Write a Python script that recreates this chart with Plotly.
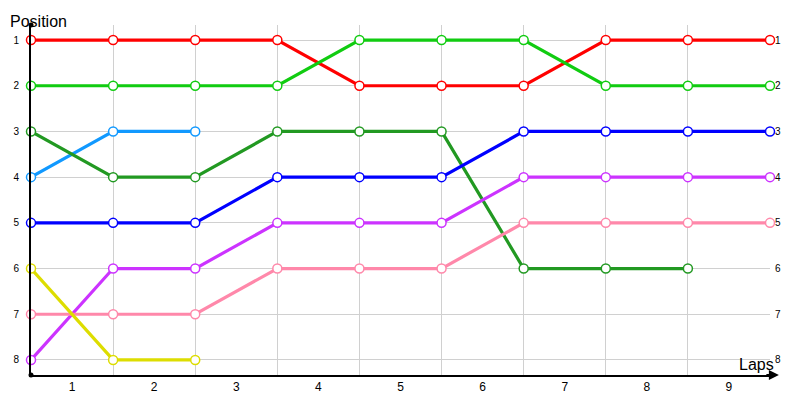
import plotly.graph_objects as go

laps = [0, 1, 2, 3, 4, 5, 6, 7, 8, 9]
lap_labels = ["1", "2", "3", "4", "5", "6", "7", "8", "9"]
positions = [1, 2, 3, 4, 5, 6, 7, 8]

red = [1, 1, 1, 1, 2, 2, 2, 1, 1, 1]
lime = [2, 2, 2, 2, 1, 1, 1, 2, 2, 2]
skyblue = [4, 3, 3]
darkgreen = [3, 4, 4, 3, 3, 3, 6, 6, 6]
blue = [5, 5, 5, 4, 4, 4, 3, 3, 3, 3]
purple = [8, 6, 6, 5, 5, 5, 4, 4, 4, 4]
pink = [7, 7, 7, 6, 6, 6, 5, 5, 5, 5]
yellow = [6, 8, 8]

series = [
    (red, "#ff0000"),
    (lime, "#11cc11"),
    (skyblue, "#1199ff"),
    (darkgreen, "#229922"),
    (blue, "#0000ff"),
    (purple, "#cc33ff"),
    (pink, "#ff88aa"),
    (yellow, "#dddd00"),
]

fig = go.Figure()
for vals, col in series:
    fig.add_trace(go.Scatter(
        x=laps[:len(vals)], y=vals, mode="lines+markers",
        line=dict(color=col, width=3.2),
        marker=dict(symbol="circle", size=9, color="white",
                    line=dict(color=col, width=1.5)),
        showlegend=False, hoverinfo="skip", cliponaxis=False,
    ))

# invisible trace for right axis
fig.add_trace(go.Scatter(x=[0], y=[1], yaxis="y2", mode="markers",
                         marker=dict(opacity=0), showlegend=False, hoverinfo="skip"))

font = "Liberation Sans"
yr = [8.33, 0.67]
fig.update_layout(
    width=792, height=392,
    margin=dict(l=23, r=30, t=17, b=25, autoexpand=False),
    paper_bgcolor="white", plot_bgcolor="white",
    font=dict(family=font, color="black"),
    xaxis=dict(
        range=[0, 9], tickvals=[i + 0.5 for i in range(9)], ticktext=lap_labels,
        showgrid=False, ticks="", tickfont=dict(size=12), automargin=False,
        showline=True, linecolor="black", linewidth=2, zeroline=False,
        minor=dict(tick0=0, dtick=1, showgrid=True, gridcolor="#d0d0d0", gridwidth=1),
    ),
    yaxis=dict(
        range=yr, tickvals=positions, ticktext=[str(p) for p in positions],
        showgrid=True, gridcolor="#d0d0d0", gridwidth=1, zeroline=False, automargin=False,
        ticks="", tickfont=dict(size=10), showline=True, linecolor="black", linewidth=2,
        ticklabelstandoff=8,
    ),
    yaxis2=dict(
        range=yr, tickvals=positions, ticktext=[str(p) for p in positions],
        overlaying="y", side="right", showgrid=False, zeroline=False, automargin=False,
        ticks="", tickfont=dict(size=10), showline=False, ticklabelstandoff=4,
    ),
    annotations=[
        dict(text="Position", xref="paper", yref="paper", x=0, y=1.0,
             xanchor="left", yanchor="bottom", showarrow=False, font=dict(size=16),
             xshift=-22, yshift=-6, borderpad=0),
        dict(text="Laps", xref="paper", yref="paper", x=1.0, y=0.0,
             xanchor="right", yanchor="bottom", showarrow=False, font=dict(size=16),
             xshift=6, yshift=0),
        dict(text="", xref="paper", yref="paper", x=1.012, y=0.0,
             ax=-14, ay=0, showarrow=True, arrowhead=2, arrowsize=1, arrowwidth=2,
             arrowcolor="black"),
    ],
)
# dots at axis ends
for yy in (0, 1):
    fig.add_shape(type="circle", xref="paper", yref="paper",
                  xsizemode="pixel", ysizemode="pixel", xanchor=0, yanchor=yy,
                  x0=-2.5, x1=2.5, y0=-2.5, y1=2.5,
                  fillcolor="black", line=dict(width=0))

fig.write_html("out.html")
